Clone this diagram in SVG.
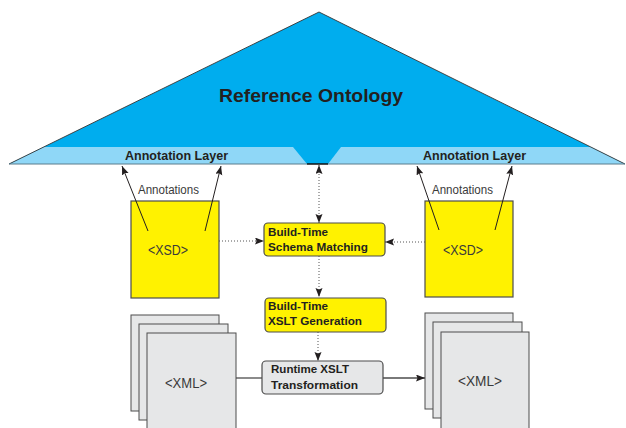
<svg xmlns="http://www.w3.org/2000/svg" width="626" height="428" viewBox="0 0 626 428">
  <style>
    .bold { font-family: "Liberation Sans", Arial, sans-serif; font-weight: bold; fill: #231f20; }
    .reg { font-family: "Liberation Sans", Arial, sans-serif; fill: #3a3a3a; }
    .yellow { fill: #fff200; stroke: #4d4d4d; stroke-width: 1.2; }
    .gray { fill: #e6e7e8; stroke: #4d4d4d; stroke-width: 1.2; }
    .page { fill: #e6e7e8; stroke: #4d4d4d; stroke-width: 1; }
    .solid { fill: none; stroke: #231f20; stroke-width: 1; }
    .dotted { fill: none; stroke: #555; stroke-width: 1; stroke-dasharray: 1 2; }
    .flow { fill: none; stroke: #4d4d4d; stroke-width: 1.3; }
  </style>
  <defs>
    <marker id="head" markerUnits="userSpaceOnUse" markerWidth="10" markerHeight="8" refX="9" refY="3.5" orient="auto-start-reverse">
      <path d="M0,0 L9,3.5 L0,7 L1.5,3.5 z" fill="#231f20"/>
    </marker>
  </defs>
  <rect width="626" height="428" fill="#ffffff"/>

  <!-- Reference ontology triangle with its annotation layers -->
  <g id="reference-ontology">
    <polygon points="9,164 319,12 625,164" fill="#00adee"/>
    <polygon points="43.7,147 293,147 307,164 9,164" fill="#8fd7f7"/>
    <polygon points="341,147 590.8,147 625,164 328,164" fill="#8fd7f7"/>
    <polyline points="9,164 319,12 625,164" fill="none" stroke="#333" stroke-width="0.9"/>
    <line x1="9" y1="164" x2="307" y2="164" stroke="#5b7d8c" stroke-width="1"/>
    <line x1="328" y1="164" x2="625" y2="164" stroke="#5b7d8c" stroke-width="1"/>
    <line x1="307" y1="164" x2="328" y2="164" stroke="#111" stroke-width="1.5"/>
    <text class="bold" x="311" y="102" font-size="18" text-anchor="middle" textLength="184" lengthAdjust="spacingAndGlyphs">Reference Ontology</text>
  </g>
  <g id="annotation-layer-left">
    <text class="bold" x="176.5" y="160" font-size="12" text-anchor="middle" textLength="103" lengthAdjust="spacingAndGlyphs">Annotation Layer</text>
  </g>
  <g id="annotation-layer-right">
    <text class="bold" x="474.5" y="160" font-size="12" text-anchor="middle" textLength="103" lengthAdjust="spacingAndGlyphs">Annotation Layer</text>
  </g>

  <!-- Schemas -->
  <g id="xsd-left">
    <rect class="yellow" x="131" y="201" width="88" height="97"/>
    <text class="reg" x="168" y="255" font-size="14" text-anchor="middle" textLength="40" lengthAdjust="spacingAndGlyphs">&lt;XSD&gt;</text>
  </g>
  <g id="xsd-right">
    <rect class="yellow" x="425" y="201" width="88" height="96"/>
    <text class="reg" x="463" y="255" font-size="14" text-anchor="middle" textLength="40" lengthAdjust="spacingAndGlyphs">&lt;XSD&gt;</text>
  </g>

  <!-- Processing steps -->
  <g id="schema-matching">
    <rect class="yellow" x="264" y="223" width="121" height="33" rx="4"/>
    <text class="bold" x="268" y="236" font-size="11.5" textLength="60" lengthAdjust="spacingAndGlyphs">Build-Time</text>
    <text class="bold" x="268" y="251" font-size="11.5" textLength="100" lengthAdjust="spacingAndGlyphs">Schema Matching</text>
  </g>
  <g id="xslt-generation">
    <rect class="yellow" x="265" y="298" width="121" height="34" rx="4"/>
    <text class="bold" x="268" y="310" font-size="11.5" textLength="60" lengthAdjust="spacingAndGlyphs">Build-Time</text>
    <text class="bold" x="268" y="325" font-size="11.5" textLength="94" lengthAdjust="spacingAndGlyphs">XSLT Generation</text>
  </g>
  <g id="xslt-transformation">
    <rect class="gray" x="262" y="361" width="121" height="33" rx="4"/>
    <text class="bold" x="271" y="373" font-size="11.5" textLength="78" lengthAdjust="spacingAndGlyphs">Runtime XSLT</text>
    <text class="bold" x="271" y="389" font-size="11.5" textLength="87" lengthAdjust="spacingAndGlyphs">Transformation</text>
  </g>

  <!-- Document stacks -->
  <g id="xml-left">
    <rect class="page" x="131" y="315" width="88" height="96"/>
    <rect class="page" x="139" y="324" width="89" height="96"/>
    <rect class="page" x="147" y="333" width="89" height="100"/>
    <text class="reg" x="186" y="388" font-size="14" text-anchor="middle" textLength="42" lengthAdjust="spacingAndGlyphs">&lt;XML&gt;</text>
  </g>
  <g id="xml-right">
    <rect class="page" x="425" y="313" width="88" height="96"/>
    <rect class="page" x="433" y="322" width="89" height="96"/>
    <rect class="page" x="441" y="332" width="88" height="100"/>
    <text class="reg" x="480" y="386" font-size="14" text-anchor="middle" textLength="44" lengthAdjust="spacingAndGlyphs">&lt;XML&gt;</text>
  </g>

  <!-- Connectors -->
  <g id="connectors">
    <line class="solid" x1="148" y1="231" x2="122" y2="166" marker-end="url(#head)"/>
    <line class="solid" x1="205" y1="231" x2="221" y2="166" marker-end="url(#head)"/>
    <line class="solid" x1="439" y1="230" x2="417" y2="166" marker-end="url(#head)"/>
    <line class="solid" x1="495" y1="230" x2="512" y2="166" marker-end="url(#head)"/>
    <text class="reg" x="168.5" y="194" font-size="12" text-anchor="middle" textLength="61" lengthAdjust="spacingAndGlyphs">Annotations</text>
    <text class="reg" x="462.5" y="194" font-size="12" text-anchor="middle" textLength="61" lengthAdjust="spacingAndGlyphs">Annotations</text>
    <line class="dotted" x1="319" y1="165" x2="319" y2="223" marker-start="url(#head)" marker-end="url(#head)"/>
    <line class="dotted" x1="219" y1="241" x2="264" y2="241" marker-end="url(#head)"/>
    <line class="dotted" x1="425" y1="242" x2="385" y2="242" marker-end="url(#head)"/>
    <line class="dotted" x1="319" y1="256" x2="319" y2="297" marker-end="url(#head)"/>
    <line class="dotted" x1="318" y1="332" x2="318" y2="361" marker-end="url(#head)"/>
    <line class="flow" x1="236" y1="378" x2="262" y2="378"/>
    <line class="flow" x1="383" y1="378" x2="425" y2="378" marker-end="url(#head)"/>
  </g>
</svg>
